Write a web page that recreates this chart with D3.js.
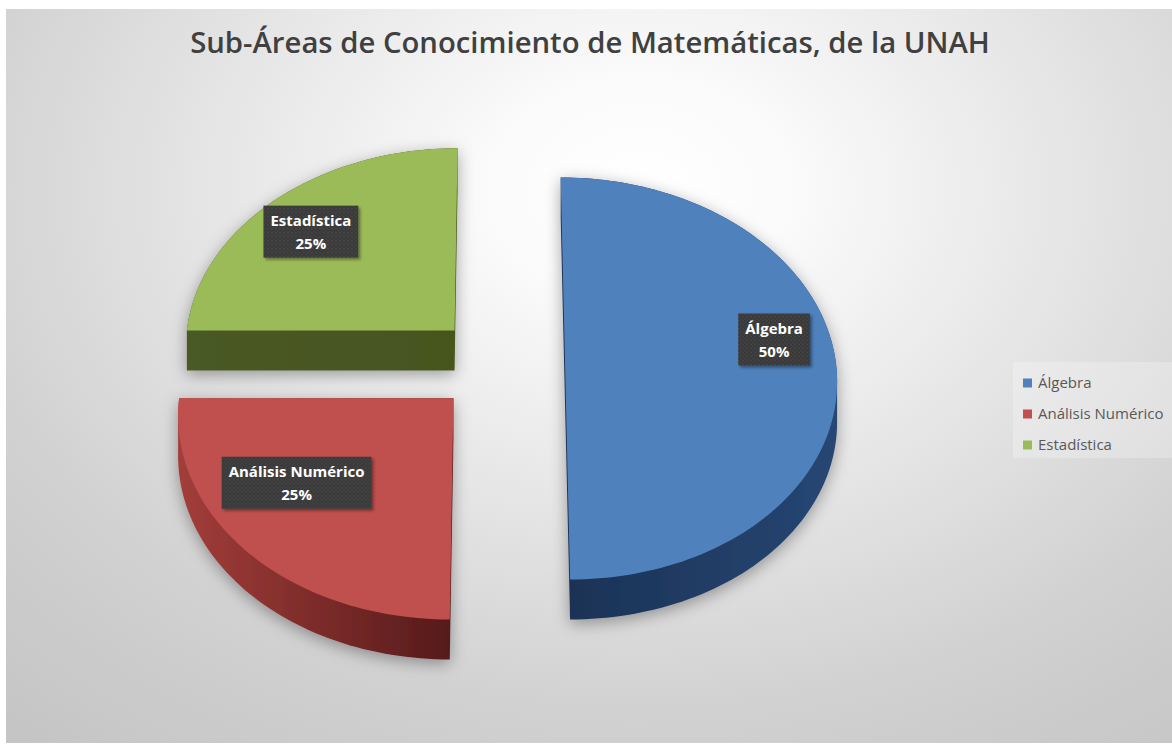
<!DOCTYPE html>
<html>
<head>
<meta charset="utf-8">
<script src="https://cdn.jsdelivr.net/npm/d3@7"></script>
<style>
  body { margin: 0; background: #fff; }
  svg { display: block; }
</style>
</head>
<body>
<div class="chart"></div>
<script>
// data
const categories = ['Álgebra', 'Análisis Numérico', 'Estadística'];
const values = [50, 25, 25];
const percentLabels = ['50%', '25%', '25%'];
const chartTitle = 'Sub-Áreas de Conocimiento de Matemáticas, de la UNAH';

// styles
const topColors = ['#4f81bd', '#c0504d', '#9bbb59'];
const sideColors = [['#1b3254', '#264673'], ['#a33d3a', '#551a1a'], ['#4a5a25', '#45541f']];

const width = 1172, height = 746;

// 3d-ish projection of the pie plane (u right, v toward viewer)
const proj = { cx: 500, cy: 364, rx: 271, ry: 200, k: 0.072, depth: 40 };
const explode = 0.24;
const labelRadius = [0.79, 0.68, 0.77];
const labelShift = [-9, 9, -2];

const project = (u, v) => {
  const s = 1 / (1 - proj.k * v);
  return [proj.cx + proj.rx * u * s, proj.cy + proj.ry * v * s];
};

const svg = d3.select('.chart')
  .append('svg')
  .attr('width', width)
  .attr('height', height);

const defs = svg.append('defs');

const bg = defs.append('radialGradient')
  .attr('id', 'bg')
  .attr('gradientUnits', 'userSpaceOnUse')
  .attr('cx', 0).attr('cy', 0).attr('r', 950)
  .attr('gradientTransform', 'translate(640,190) scale(1,0.75)');
[[0, '#ffffff'], [0.15, '#fbfbfb'], [0.5, '#e2e2e2'], [0.65, '#d7d7d7'], [0.75, '#d0d0d0'], [1, '#c5c5c5']]
  .forEach(([o, c]) => bg.append('stop').attr('offset', o).attr('stop-color', c));

const shadow = defs.append('filter')
  .attr('id', 'shadow')
  .attr('x', '-20%').attr('y', '-20%').attr('width', '140%').attr('height', '140%');
shadow.append('feDropShadow')
  .attr('dx', 0).attr('dy', 4).attr('stdDeviation', 8)
  .attr('flood-color', '#000').attr('flood-opacity', 0.35);

const boxShadow = defs.append('filter')
  .attr('id', 'boxShadow')
  .attr('x', '-20%').attr('y', '-20%').attr('width', '140%').attr('height', '140%');
boxShadow.append('feDropShadow')
  .attr('dx', 2).attr('dy', 2).attr('stdDeviation', 1.5)
  .attr('flood-color', '#000').attr('flood-opacity', 0.4);

const dots = defs.append('pattern')
  .attr('id', 'dots')
  .attr('patternUnits', 'userSpaceOnUse')
  .attr('width', 4).attr('height', 4);
dots.append('rect').attr('width', 4).attr('height', 4).attr('fill', '#383838');
dots.append('circle').attr('cx', 1).attr('cy', 1).attr('r', 0.7).attr('fill', '#5a5a5a');
dots.append('circle').attr('cx', 3).attr('cy', 3).attr('r', 0.7).attr('fill', '#4c4c4c');

sideColors.forEach((c, i) => {
  const g = defs.append('linearGradient')
    .attr('id', `side${i}`)
    .attr('x1', 0).attr('x2', 1).attr('y1', 0).attr('y2', 0);
  g.append('stop').attr('offset', 0).attr('stop-color', c[0]);
  g.append('stop').attr('offset', 1).attr('stop-color', c[1]);
});

// background
svg.append('rect')
  .attr('x', 6).attr('y', 9)
  .attr('width', width - 6).attr('height', height - 12)
  .attr('fill', 'url(#bg)');

// title
const titleText = svg.append('text')
  .attr('x', 590)
  .attr('y', 53)
  .attr('text-anchor', 'middle')
  .attr('font-family', '"Open Sans", sans-serif')
  .attr('font-weight', 600)
  .attr('font-size', 28)
  .attr('fill', '#404040')
  .text(chartTitle);
const tw = titleText.node().getComputedTextLength();
titleText.attr('font-size', 28 * 800 / tw);

// pie
const pie = d3.pie().sort(null).value(d => d.value);
const arcs = pie(categories.map((c, i) => ({ name: c, value: values[i], idx: i })));

const slicePoints = d => {
  const mid = (d.startAngle + d.endAngle) / 2;
  const c = [explode * Math.sin(mid), -explode * Math.cos(mid)];
  const n = Math.max(8, Math.round((d.endAngle - d.startAngle) * 40));
  const pts = [c];
  d3.range(n + 1).forEach(j => {
    const a = d.startAngle + (d.endAngle - d.startAngle) * j / n;
    pts.push([c[0] + Math.sin(a), c[1] - Math.cos(a)]);
  });
  return pts.map(p => project(p[0], p[1]));
};

const line = d3.line();
const slices = svg.append('g').attr('class', 'slices');

arcs.forEach(d => {
  const top = slicePoints(d);
  const bottom = top.map(p => [p[0], p[1] + proj.depth]);
  const hull = d3.polygonHull(top.concat(bottom));
  const g = slices.append('g');
  g.append('path')
    .attr('d', line(hull) + 'Z')
    .attr('fill', `url(#side${d.data.idx})`)
    .attr('filter', 'url(#shadow)');
  g.append('path')
    .attr('d', line(top) + 'Z')
    .attr('fill', topColors[d.data.idx]);
});

// data labels
const labels = svg.append('g')
  .attr('font-family', '"Open Sans", sans-serif')
  .attr('font-weight', 700)
  .attr('font-size', 15)
  .attr('fill', '#fff')
  .attr('text-anchor', 'middle');

arcs.forEach(d => {
  const i = d.data.idx;
  const mid = (d.startAngle + d.endAngle) / 2;
  const a = mid + labelShift[i] * Math.PI / 180;
  const r = labelRadius[i];
  const c = [explode * Math.sin(mid), -explode * Math.cos(mid)];
  const [x, y] = project(c[0] + r * Math.sin(a), c[1] - r * Math.cos(a));
  const g = labels.append('g').attr('transform', `translate(${x},${y})`);
  const box = g.append('rect').attr('fill', 'url(#dots)').attr('filter', 'url(#boxShadow)');
  const t1 = g.append('text').attr('y', -6).text(d.data.name);
  g.append('text').attr('y', 17).text(percentLabels[i]);
  const w = t1.node().getComputedTextLength() + 14;
  box.attr('x', -w / 2).attr('y', -26).attr('width', w).attr('height', 52);
});

// legend
const legend = svg.append('g')
  .attr('font-family', '"Open Sans", sans-serif')
  .attr('font-size', 15)
  .attr('fill', '#595959');

legend.append('rect')
  .attr('x', 1013).attr('y', 362)
  .attr('width', 170).attr('height', 96)
  .attr('fill', '#ffffff').attr('opacity', 0.25);

const item = legend.selectAll('g.item')
  .data(categories)
  .enter()
  .append('g')
  .attr('class', 'item')
  .attr('transform', (d, i) => `translate(1023, ${383 + i * 31})`);

item.append('rect')
  .attr('x', 0).attr('y', -4.5)
  .attr('width', 9).attr('height', 9)
  .attr('fill', (d, i) => topColors[i]);

item.append('text')
  .attr('x', 15)
  .attr('dy', '0.35em')
  .text(d => d);
</script>
</body>
</html>
